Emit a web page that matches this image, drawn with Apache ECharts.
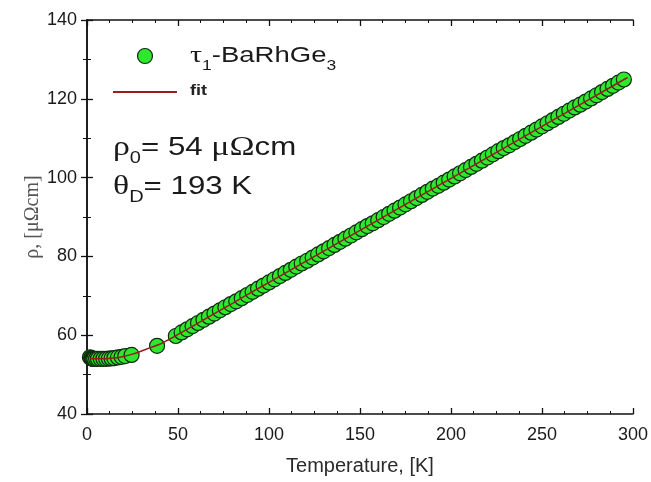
<!DOCTYPE html>
<html><head><meta charset="utf-8">
<script src="https://cdn.jsdelivr.net/npm/echarts@6/dist/echarts.min.js"></script>
<style>html,body{margin:0;padding:0;background:#fff}#c{width:651px;height:482px}</style>
</head><body><div id="c"></div>
<script>
// Measured resistivity, tau1-BaRhGe3
var tempK = [1.6,2.2,2.6,3,3.5,4,5,6,7.5,9,10.5,12,13.5,15,17,19,21,24.5,38.5,48.8,
 52,55,58,61,64,67,70,73,76,79,82,85,88,91,94,97,100,103,106,109,112,115,118,121,124,127,130,
 133,136,139,142,145,148,151,154,157,160,163,166,169,172,175,178,181,184,187,190,193,196,199,
 202,205,208,211,214,217,220,223,226,229,232,235,238,241,244,247,250,253,256,259,262,265,268,
 271,274,277,280,283,286,289,292,295];
var rho = [54.4,54.2,54.1,54.0,54.0,54.0,54.0,54.0,54.0,54.0,54.0,54.05,54.1,54.2,54.35,54.5,54.7,55.0,57.3,59.8,
 60.7,61.5,62.3,63.1,63.9,64.7,65.5,66.3,67.1,67.9,68.6,69.4,70.2,71.0,71.8,72.6,73.4,74.2,75.0,75.8,76.6,77.4,78.2,78.9,79.7,80.5,81.3,
 82.1,82.9,83.7,84.5,85.3,86.1,86.9,87.7,88.4,89.2,90.0,90.8,91.6,92.4,93.2,94.0,94.8,95.6,96.4,97.2,97.9,98.7,99.5,
 100.3,101.1,101.9,102.7,103.5,104.3,105.1,105.9,106.7,107.5,108.2,109.0,109.8,110.6,111.4,112.2,113.0,113.8,114.6,115.4,116.2,117.0,117.8,
 118.5,119.3,120.1,120.9,121.7,122.5,123.3,124.1,124.9];
// Bloch-Gruneisen fit curve
var fitT = [1.6,5,10,15,20,25,30,35,40,45,50,55,60,70,80,90,100,125,150,175,200,225,250,275,297];
var fitRho = [54.0,54.0,54.05,54.2,54.6,55.2,56.0,56.9,57.7,58.9,60.2,61.5,62.8,65.5,68.1,70.8,73.4,80.0,86.6,93.2,99.8,106.4,113.0,119.6,125.4];
var xTicks = [0,50,100,150,200,250,300];
var yTicks = [40,60,80,100,120,140];
var seriesName = 'τ1-BaRhGe3';
var fitName = 'fit';

var pts = tempK.map(function(t,i){return [t,rho[i]];});
var fitPts = fitT.map(function(t,i){return [t,fitRho[i]];});

var font = 'Liberation Sans, Arial, sans-serif';
var serif = 'Liberation Serif, Times New Roman, serif';
var axisCommon = {
  axisLine:{show:true,lineStyle:{color:'#111',width:1.5}},
  axisTick:{show:true,inside:true,length:6,lineStyle:{color:'#111',width:1.3}},
  splitLine:{show:false}
};
function ax(o){var r={};for(var k in axisCommon)r[k]=axisCommon[k];for(var k2 in o)r[k2]=o[k2];return r;}
var xMinor = {show:true,splitNumber:4,length:3,lineStyle:{color:'#111',width:1}};
var yMinor = {show:true,splitNumber:2,length:4,lineStyle:{color:'#111',width:1}};

var chart = echarts.init(document.getElementById('c'),null,{renderer:'canvas'});
chart.setOption({
  animation:false,
  backgroundColor:'#fff',
  grid:{left:87,right:17,top:20,bottom:68,containLabel:false},
  xAxis:[
    ax({type:'value',min:xTicks[0],max:xTicks[xTicks.length-1],interval:50,position:'bottom',
      minorTick:xMinor,
      axisLabel:{color:'#1a1a1a',fontFamily:font,fontSize:18,margin:12},
      name:'Temperature, [K]',nameLocation:'middle',nameGap:42,nameMoveOverlap:false,
      nameTextStyle:{color:'#2a2a2a',fontFamily:font,fontSize:20}}),
    ax({type:'value',min:0,max:300,interval:50,position:'top',minorTick:xMinor,axisLabel:{show:false}})
  ],
  yAxis:[
    ax({type:'value',min:yTicks[0],max:yTicks[yTicks.length-1],interval:20,position:'left',
      minorTick:yMinor,
      axisLabel:{color:'#1a1a1a',fontFamily:font,fontSize:18,margin:10},
      name:'ρ, [μΩcm]',nameLocation:'middle',nameGap:44,nameRotate:90,nameMoveOverlap:false,
      nameTextStyle:{color:'#555',fontFamily:serif,fontSize:20}}),
    ax({type:'value',min:40,max:140,interval:20,position:'right',minorTick:yMinor,axisLabel:{show:false}})
  ],
  series:[
    {name:seriesName,type:'scatter',data:pts,symbol:'circle',symbolSize:15,
     itemStyle:{color:'#2ee82e',borderColor:'#0f2a0f',borderWidth:1.2,opacity:1},z:2},
    {name:fitName,type:'line',data:fitPts,showSymbol:false,symbol:'none',smooth:0.3,
     lineStyle:{color:'#9b1c1c',width:1.5},z:3}
  ],
  graphic:[
    {type:'circle',shape:{cx:145,cy:56,r:7.5},style:{fill:'#2ee82e',stroke:'#0f2a0f',lineWidth:1.2}},
    {type:'text',x:190,y:56,scaleX:1.25,style:{
      text:'{g|τ}{s|1}{n|-BaRhGe}{s|3}',verticalAlign:'middle',align:'left',
      rich:{g:{fontFamily:serif,fontSize:24,fill:'#1a1a1a'},
            n:{fontFamily:font,fontSize:22,fill:'#1a1a1a'},
            s:{fontFamily:font,fontSize:14,fill:'#1a1a1a',padding:[20,0,0,0]}}}},
    {type:'line',shape:{x1:113,y1:92,x2:177,y2:92},style:{stroke:'#9b1c1c',lineWidth:2}},
    {type:'text',x:190,y:91,scaleX:1.2,style:{text:'fit',verticalAlign:'middle',align:'left',
      fontFamily:font,fontSize:15,fontWeight:'bold',fill:'#222'}},
    {type:'text',x:113,y:148,scaleX:1.25,style:{
      text:'{g|ρ}{s|0}{n|= 54 }{g|μΩ}{n|cm}',verticalAlign:'middle',align:'left',
      rich:{g:{fontFamily:serif,fontSize:27,fill:'#1a1a1a'},
            n:{fontFamily:font,fontSize:25,fill:'#1a1a1a'},
            s:{fontFamily:font,fontSize:16,fill:'#1a1a1a',padding:[22,0,0,0]}}}},
    {type:'text',x:113,y:187,scaleX:1.25,style:{
      text:'{g|θ}{s|D}{n|= 193 K}',verticalAlign:'middle',align:'left',
      rich:{g:{fontFamily:serif,fontSize:27,fill:'#1a1a1a'},
            n:{fontFamily:font,fontSize:25,fill:'#1a1a1a'},
            s:{fontFamily:font,fontSize:16,fill:'#1a1a1a',padding:[22,0,0,0]}}}}
  ]
});
</script></body></html>
